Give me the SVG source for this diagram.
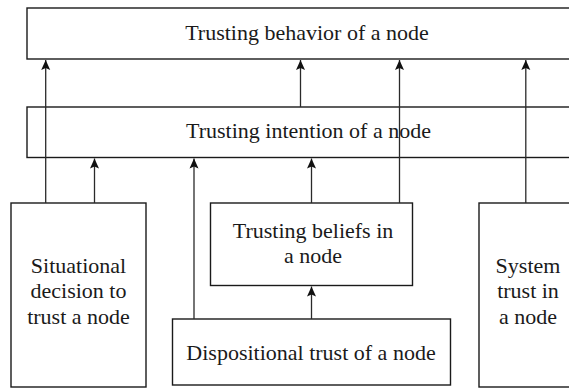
<svg xmlns="http://www.w3.org/2000/svg" width="569" height="388" viewBox="0 0 569 388">
<style>
.box{fill:#fff;stroke:#1a1a1a;stroke-width:1.4}
.lbl{font-family:"Liberation Serif","Times New Roman",serif;font-size:22px;fill:#1a1a1a;text-anchor:middle}
.edge{stroke:#2a2a2a;stroke-width:1.3;fill:none;marker-end:url(#ah)}
</style>
<defs>
<marker id="ah" markerUnits="userSpaceOnUse" markerWidth="12" markerHeight="12" viewBox="-11 -6 12 12" refX="0" refY="0" orient="auto" overflow="visible">
<path d="M0,0 L-10,-4.5 L-8,0 L-10,4.5 Z" fill="#111"/>
</marker>
</defs>
<rect width="569" height="388" fill="#fff"/>
<g id="behavior">
<rect class="box" x="27" y="8" width="560" height="51"/>
<text class="lbl" x="307" y="40">Trusting behavior of a node</text>
</g>
<g id="intention">
<rect class="box" x="27" y="107" width="560" height="50.5"/>
<text class="lbl" x="308.5" y="138">Trusting intention of a node</text>
</g>
<g id="situational">
<rect class="box" x="11" y="203" width="135" height="184"/>
<text class="lbl" x="78.5" y="273">Situational</text>
<text class="lbl" x="78.5" y="298">decision to</text>
<text class="lbl" x="78.5" y="324">trust a node</text>
</g>
<g id="beliefs">
<rect class="box" x="210.5" y="203" width="202" height="82.5"/>
<text class="lbl" x="313" y="238">Trusting beliefs in</text>
<text class="lbl" x="313" y="263">a node</text>
</g>
<g id="dispositional">
<rect class="box" x="172.5" y="319" width="278" height="66"/>
<text class="lbl" x="311" y="360">Dispositional trust of a node</text>
</g>
<g id="system">
<rect class="box" x="479" y="203" width="110" height="184"/>
<text class="lbl" x="528" y="273">System</text>
<text class="lbl" x="528" y="298">trust in</text>
<text class="lbl" x="528" y="324">a node</text>
</g>
<g id="connectors">
<line class="edge" x1="45.7" y1="203" x2="45.7" y2="60"/>
<line class="edge" x1="94.5" y1="203" x2="94.5" y2="158.5"/>
<line class="edge" x1="194" y1="319" x2="194" y2="158.5"/>
<line class="edge" x1="311.5" y1="203" x2="311.5" y2="158.5"/>
<line class="edge" x1="300.5" y1="107" x2="300.5" y2="60"/>
<line class="edge" x1="399.5" y1="203" x2="399.5" y2="60"/>
<line class="edge" x1="525.8" y1="203" x2="525.8" y2="60"/>
<line class="edge" x1="311.5" y1="319" x2="311.5" y2="286.5"/>
</g>
</svg>
